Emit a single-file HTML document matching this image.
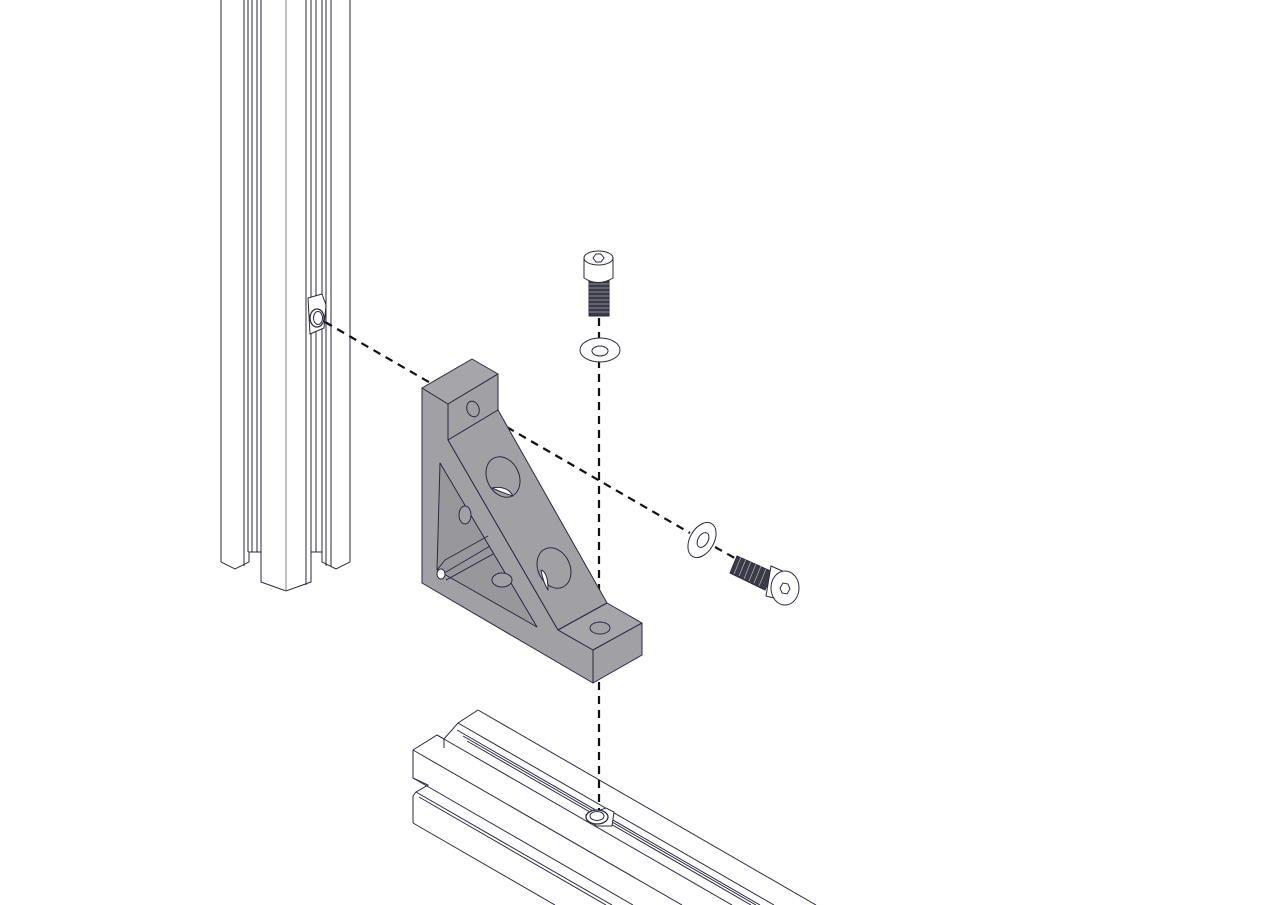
<!DOCTYPE html>
<html><head><meta charset="utf-8"><style>html,body{margin:0;padding:0;background:#fff;width:1280px;height:905px;overflow:hidden}svg{display:block}</style></head>
<body>
<svg width="1280" height="905" viewBox="0 0 1280 905" xmlns="http://www.w3.org/2000/svg">
<rect width="1280" height="905" fill="#fff"/>
<g fill="none" stroke="#2a2a40" stroke-width="1">
<path d="M221 0 V562 L235 569 L249 562 V552 L261 552 V582 L286 591 L311 582 V552 L322 552 V562 L336 569 L350 562 V0" fill="#fff"/>
<line x1="244" y1="0" x2="244" y2="566"/>
<line x1="248" y1="0" x2="248" y2="552"/>
<line x1="252" y1="0" x2="252" y2="552"/>
<line x1="257" y1="0" x2="257" y2="552"/>
<line x1="261" y1="0" x2="261" y2="552"/>
<line x1="286" y1="0" x2="286" y2="590" stroke-width="0.6"/>
<line x1="306" y1="0" x2="306" y2="585"/>
<line x1="311" y1="0" x2="311" y2="552"/>
<line x1="316" y1="0" x2="316" y2="552"/>
<line x1="322" y1="0" x2="322" y2="552"/>
<line x1="326" y1="0" x2="326" y2="566"/>
<line x1="331" y1="0" x2="331" y2="566"/>
<path d="M308 298 L322 294 L326 305 L324 328 L310 334 Z" fill="#fff"/>
<ellipse cx="317" cy="318" rx="7" ry="9" fill="#fff" stroke-width="1.3"/>
<ellipse cx="318" cy="318" rx="4.5" ry="6.5" fill="#fff"/>
<path d="M413 750 L437 735 L458 723 L478 710 L816 905 L413 905 Z" fill="#fff" stroke="none"/>
<path d="M413 750 V778 L428 785 L416 792 L413 796 V823"/>
<path d="M413 750 L437 735 L444 739 L458 723 L478 710"/>
<line x1="478" y1="710" x2="816" y2="905"/>
<line x1="458" y1="723" x2="774" y2="905"/>
<line x1="457" y1="730" x2="760" y2="905"/>
<line x1="463" y1="736" x2="756" y2="905"/>
<line x1="467" y1="741" x2="751" y2="905"/>
<line x1="437" y1="735" x2="732" y2="905"/>
<line x1="413" y1="750" x2="682" y2="905"/>
<line x1="413" y1="778" x2="633" y2="905"/>
<line x1="416" y1="792" x2="612" y2="905"/>
<line x1="419" y1="797" x2="606" y2="905"/>
<line x1="413" y1="823" x2="555" y2="905"/>
<line x1="444" y1="739" x2="444" y2="748"/>
<path d="M586 815 L606 808 L614 812 L612 826 L596 826 Z" fill="#fff"/>
<ellipse cx="597" cy="817" rx="11" ry="7" fill="#fff" stroke-width="1.3"/>
<ellipse cx="597" cy="816" rx="7" ry="4.5" fill="#fff"/>
</g>
<g stroke="#111" stroke-width="2.2" stroke-dasharray="8,6" fill="none">
<line x1="325" y1="322" x2="690" y2="533"/>
<line x1="715" y1="547" x2="740" y2="561"/>
<line x1="599" y1="318" x2="599" y2="810"/>
</g>
<g stroke="#2a2a40" stroke-width="1" stroke-linejoin="round" fill="#a0a0a5">
<path d="M422 388 L448 404 L448 440 L558 630 L593 650 L593 683 L422 583 Z"/>
<path d="M422 388 L472 359 L498 374 L448 404 Z" fill="#a6a6aa"/>
<path d="M448 404 L498 374 L498 410 L448 440 Z"/>
<path d="M448 440 L498 410 L607 603 L558 630 Z"/>
<path d="M558 630 L607 603 L642 623 L593 650 Z" fill="#a6a6aa"/>
<path d="M593 650 L642 623 L642 655 L593 683 Z"/>
<path d="M440 463 L537 627 L437 570 Z" fill="#98989c"/>
<path d="M437 570 L445 560 L488 536 M441 575 L490 546 M446 580 L493 554" fill="none"/>
<ellipse cx="441" cy="574" rx="4" ry="5" fill="#fff"/>
<ellipse cx="473" cy="409" rx="6" ry="8" transform="rotate(-20 473 409)"/>
<ellipse cx="600" cy="628" rx="10" ry="6"/>
<ellipse cx="503" cy="477" rx="16" ry="21" transform="rotate(-25 503 477)"/>
<path d="M492 488 Q503 493 513 496 Q507 485 492 488 Z" fill="#fff"/>
<ellipse cx="554" cy="568" rx="16" ry="21" transform="rotate(-25 554 568)"/>
<path d="M541 570 Q543 582 548 590 Q548 572 541 570 Z" fill="#fff"/>
<ellipse cx="465" cy="515" rx="6" ry="9"/>
<ellipse cx="502" cy="580" rx="10" ry="7"/>
</g>
<g stroke="#2a2a40" stroke-width="1">
<rect x="589" y="280" width="20" height="36" fill="#3a3a48"/>
<g stroke="#aaa" stroke-width="0.8">
<line x1="589" y1="284" x2="609" y2="284"/><line x1="589" y1="288" x2="609" y2="288"/><line x1="589" y1="292" x2="609" y2="292"/><line x1="589" y1="296" x2="609" y2="296"/><line x1="589" y1="300" x2="609" y2="300"/><line x1="589" y1="304" x2="609" y2="304"/><line x1="589" y1="308" x2="609" y2="308"/><line x1="589" y1="312" x2="609" y2="312"/>
</g>
<path d="M584 258 V278 Q598 287 613 278 V258" fill="#fff"/>
<ellipse cx="598.5" cy="258" rx="14.5" ry="7" fill="#fff"/>
<polygon points="593,258 596,254 601,254 604,258 601,262 596,262" fill="#fff"/>
<ellipse cx="600" cy="350" rx="20" ry="12" fill="#fff"/>
<ellipse cx="600" cy="351" rx="8" ry="5" fill="#fff"/>
<ellipse cx="702" cy="540" rx="12" ry="19" transform="rotate(30 702 540)" fill="#fff"/>
<ellipse cx="703" cy="540" rx="5" ry="8" transform="rotate(30 703 540)" fill="#fff"/>
<path d="M737 556 L773 572 L765 590 L730 573 Z" fill="#3a3a48"/>
<g stroke="#aaa" stroke-width="0.8">
<line x1="741" y1="557" x2="734" y2="574"/><line x1="746" y1="559" x2="739" y2="576"/><line x1="751" y1="561" x2="744" y2="579"/><line x1="756" y1="564" x2="749" y2="581"/><line x1="761" y1="566" x2="754" y2="583"/><line x1="766" y1="569" x2="759" y2="586"/>
</g>
<path d="M771 566 L789 574 L789 602 L766 596 Z" fill="#fff"/>
<ellipse cx="785" cy="588" rx="14" ry="17" fill="#fff"/>
<polygon points="780,588 783,583 788,584 790,589 787,594 782,593" fill="#fff"/>
</g>
</svg>
</body></html>
